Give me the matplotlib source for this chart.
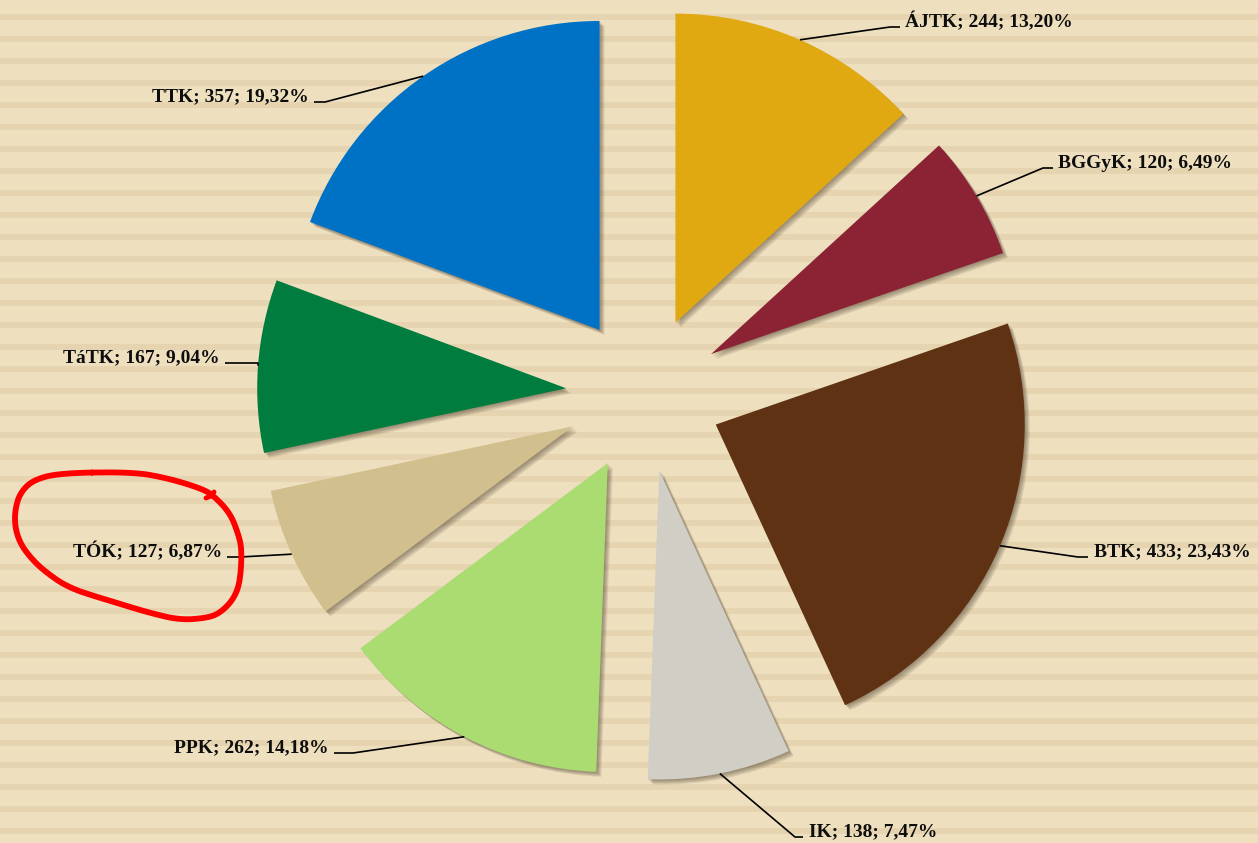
import matplotlib
matplotlib.use("Agg")
import matplotlib.pyplot as plt
import numpy as np

# adatok
karok = ["ÁJTK", "BGGyK", "BTK", "IK", "PPK", "TÓK", "TáTK", "TTK"]
letszam = [244, 120, 433, 138, 262, 127, 167, 357]
szinek = ["#E0A912", "#8B2334", "#5E3212", "#D1CFC5", "#AADC72",
          "#D2BF8E", "#007C3E", "#0072C6"]

# elrendezés (pixel koordináták, y lefelé)
W, H = 1258, 843
kozep = (644, 394)
sugar = 309
kiemeles = 78
# címkék: könyökpont, vízszintes vége, szöveg pozíció, igazítás
konyok = [(890, 27), (1043, 168), (1078, 557), (795, 837),
          (353, 753), (240, 557), (258, 363), (325, 102)]
vonal_vege = [(900, 27), (1053, 168), (1088, 557), (803, 837),
              (334, 753), (227, 557), (225, 363), (314, 102)]
szoveg_xy = [(905, 22), (1058, 163), (1094, 552), (809, 832),
             (329, 748), (222, 552), (220, 358), (309, 97)]
igazitas = ["left", "left", "left", "left", "right", "right", "right", "right"]

ossz = sum(letszam)

fig = plt.figure(figsize=(W / 100, H / 100), dpi=100)
ax = fig.add_axes([0, 0, 1, 1])

# csíkos háttér
fig.patch.set_facecolor("#EEDFBF")
ax.set_facecolor("#EEDFBF")
for y0 in range(14, H, 22):
    ax.axhspan(y0, y0 + 6, color="#E6D4B0", lw=0, zorder=0)

# árnyék
for k in range(1, 6):
    sw, _ = ax.pie(letszam, explode=[kiemeles] * len(letszam), radius=sugar,
                   center=(kozep[0] + k, kozep[1] + k), startangle=-90,
                   counterclock=True, colors=["#3b3020"] * len(letszam),
                   wedgeprops=dict(linewidth=0, alpha=0.11), frame=True)
    for w in sw:
        w.set_zorder(1)

wedges, _ = ax.pie(letszam, explode=[kiemeles] * len(letszam), radius=sugar,
                   center=kozep, startangle=-90, counterclock=True,
                   colors=szinek, wedgeprops=dict(linewidth=0), frame=True)
for w in wedges:
    w.set_zorder(2)

# címkék vezetővonallal
for i, w in enumerate(wedges):
    th = np.deg2rad((w.theta1 + w.theta2) / 2)
    cx, cy = w.center
    x0 = cx + sugar * np.cos(th)
    y0 = cy + sugar * np.sin(th)
    ax.plot([x0, konyok[i][0], vonal_vege[i][0]],
            [y0, konyok[i][1], vonal_vege[i][1]],
            color="black", lw=1.2, zorder=3, solid_capstyle="butt")
    szaz = f"{letszam[i] / ossz * 100:.2f}".replace(".", ",")
    ax.text(szoveg_xy[i][0], szoveg_xy[i][1], f"{karok[i]}; {letszam[i]}; {szaz}%",
            ha=igazitas[i], va="center", fontsize=14, fontweight="bold",
            family=["Liberation Serif", "DejaVu Serif"], color="#0d0d0d", zorder=4)

# piros kézzel rajzolt karika
kor = np.array([(60, 473), (133, 472), (167, 478), (200, 488), (213, 495),
                (230, 513), (238, 533), (242, 550),
                (240, 583), (233, 600), (220, 613), (207, 618), (180, 620),
                (150, 613), (117, 603), (100, 598), (67, 587), (43, 570),
                (30, 557), (20, 543), (15, 527), (15, 510), (20, 493),
                (33, 480), (60, 473)], dtype=float)


def simit(p, n=3):
    # Chaikin simítás zárt görbére
    for _ in range(n):
        q = np.roll(p[:-1], -1, axis=0)
        a = 0.75 * p[:-1] + 0.25 * q
        b = 0.25 * p[:-1] + 0.75 * q
        p = np.empty((2 * len(a), 2))
        p[0::2] = a
        p[1::2] = b
        p = np.vstack([p, p[:1]])
    return p


kor_s = simit(kor)
ax.plot(kor_s[:, 0], kor_s[:, 1], color="#FF0000", lw=4.2, zorder=5,
        solid_joinstyle="round", solid_capstyle="round")
# kis kampó a karikán
ax.plot([206, 211, 214], [498, 496, 492], color="#FF0000", lw=3.5, zorder=5,
        solid_capstyle="round")

ax.set_xlim(0, W)
ax.set_ylim(H, 0)
ax.set_aspect("auto")
ax.axis("off")

fig.savefig("out.png", dpi=100, facecolor=fig.get_facecolor())
